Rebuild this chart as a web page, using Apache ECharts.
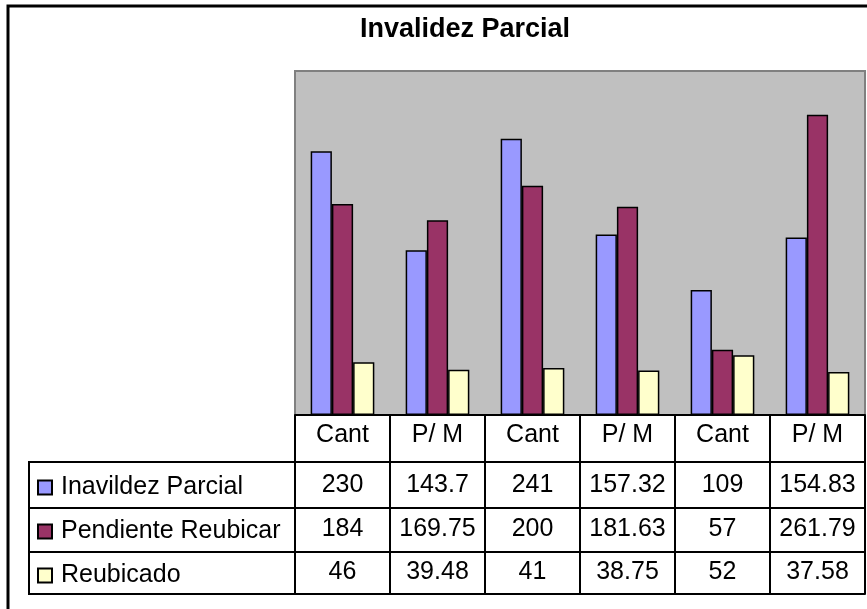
<!DOCTYPE html>
<html>
<head>
<meta charset="utf-8">
<script src="https://cdn.jsdelivr.net/npm/echarts@6/dist/echarts.min.js"></script>
<style>html,body{margin:0;padding:0;background:#fff}#c{width:867px;height:609px}</style>
</head>
<body>
<div id="c"></div>
<script>
const titleText = 'Invalidez Parcial';
const categories = ['Cant', 'P/ M', 'Cant', 'P/ M', 'Cant', 'P/ M'];
const seriesNames = ['Inavildez Parcial', 'Pendiente Reubicar', 'Reubicado'];
const invalidez = [230, 143.7, 241, 157.32, 109, 154.83];
const pendiente = [184, 169.75, 200, 181.63, 57, 261.79];
const reubicado = [46, 39.48, 41, 38.75, 52, 37.58];
const colors = ['#9999FF', '#993366', '#FFFFCC'];

const FONT = '"Liberation Sans", Arial, sans-serif';
const FS = 25;
const rows = [invalidez, pendiente, reubicado];
const rowOffsets = [47, 93, 137];
const rowMargins = [11, 9, 8];

const chart = echarts.init(document.getElementById('c'), null, {renderer: 'canvas'});

const xAxes = [{
  type: 'category', data: categories, position: 'bottom', gridIndex: 0,
  axisLine: {show: true, lineStyle: {color: '#000', width: 2}},
  axisTick: {show: true, length: 179, inside: false, lineStyle: {color: '#000', width: 2}},
  axisLabel: {show: true, interval: 0, margin: 8, fontSize: FS, lineHeight: FS, color: '#000', fontFamily: FONT},
  splitLine: {show: false}
}];
rows.forEach((arr, r) => {
  xAxes.push({
    type: 'category', data: categories, position: 'bottom', gridIndex: 0, offset: rowOffsets[r],
    axisLine: {show: true, lineStyle: {color: '#000', width: 2}},
    axisTick: {show: false},
    axisLabel: {show: true, interval: 0, margin: rowMargins[r], fontSize: FS, lineHeight: FS, color: '#000', fontFamily: FONT,
      formatter: (v, i) => String(arr[i])},
    splitLine: {show: false}
  });
});
xAxes.push({
  type: 'category', data: categories, position: 'bottom', gridIndex: 0, offset: 179,
  axisLine: {show: true, lineStyle: {color: '#000', width: 2}},
  axisTick: {show: false}, axisLabel: {show: false}, splitLine: {show: false}
});

const series = rows.map((arr, r) => ({
  name: seriesNames[r], type: 'bar', xAxisIndex: 0, yAxisIndex: 0,
  data: arr, barGap: '0%', barCategoryGap: '33%',
  itemStyle: {color: colors[r], borderColor: '#000', borderWidth: 1.5},
  emphasis: {disabled: true}
}));

chart.setOption({
  animation: false,
  backgroundColor: '#fff',
  title: {
    text: titleText, left: 460, top: 11, textAlign: 'center',
    textStyle: {fontSize: 27, fontWeight: 'bold', color: '#000', fontFamily: FONT}
  },
  grid: {left: 295, right: 2, top: 71, bottom: 194, show: true,
    backgroundColor: '#C0C0C0', borderColor: '#808080', borderWidth: 2, containLabel: false},
  legend: {
    orient: 'vertical', left: 37, top: 475, itemGap: 19, padding: 0,
    itemWidth: 14, itemHeight: 14, icon: 'rect',
    selectedMode: false,
    textStyle: {fontSize: FS, lineHeight: FS, color: '#000', fontFamily: FONT, padding: [0, 0, 0, 4]},
    data: seriesNames
  },
  xAxis: xAxes,
  yAxis: {type: 'value', min: 0, max: 300, show: false, splitLine: {show: false}},
  series: series,
  graphic: [
    {type: 'rect', shape: {x: 8, y: 6, width: 900, height: 700}, style: {fill: 'none', stroke: '#000', lineWidth: 3}, z: 100},
    {type: 'rect', shape: {x: 29, y: 462, width: 266, height: 132}, style: {fill: 'none', stroke: '#000', lineWidth: 2}, z: 100},
    {type: 'line', shape: {x1: 29, y1: 508, x2: 295, y2: 508}, style: {stroke: '#000', lineWidth: 2}, z: 100},
    {type: 'line', shape: {x1: 29, y1: 552, x2: 295, y2: 552}, style: {stroke: '#000', lineWidth: 2}, z: 100}
  ]
});
</script>
</body>
</html>
